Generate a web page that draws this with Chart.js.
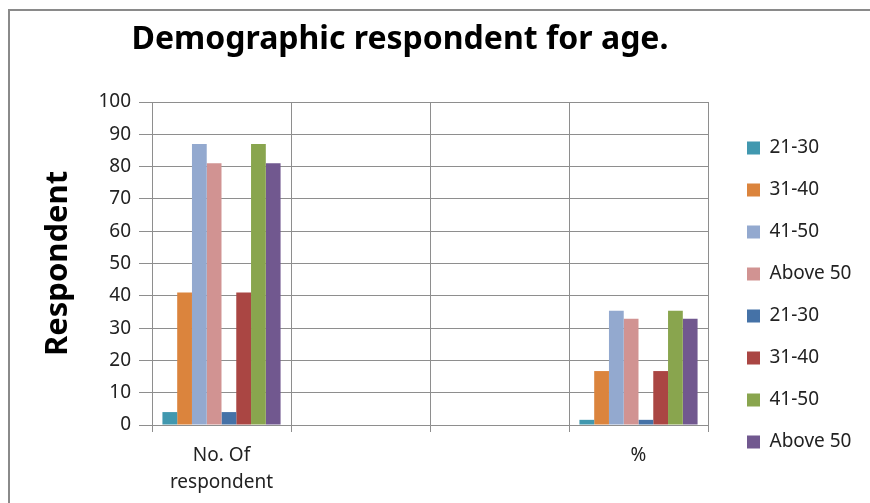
<!DOCTYPE html>
<html>
<head>
<meta charset="utf-8">
<script src="https://cdn.jsdelivr.net/npm/chart.js@4"></script>
<style>
  html, body { margin: 0; padding: 0; background: #fff; }
  #wrap { position: relative; width: 870px; height: 503px; overflow: hidden; }
  #frame { position: absolute; left: 8px; top: 9px; width: 900px; height: 600px;
           border-left: 2px solid #8a8a8a; border-top: 2px solid #8a8a8a; }
  canvas { position: absolute; left: 0; top: 0; }
</style>
</head>
<body>
<div id="wrap">
  <div id="frame"></div>
  <canvas id="c" width="870" height="503"></canvas>
</div>
<script>
// ---- data ----
const categories = [['No. Of', 'respondent'], '', '', '%'];
const seriesNames = ['21-30', '31-40', '41-50', 'Above 50', '21-30', '31-40', '41-50', 'Above 50'];
const s1_2130 = [4, null, null, 1.6];
const s1_3140 = [41, null, null, 16.7];
const s1_4150 = [87, null, null, 35.4];
const s1_above50 = [81, null, null, 32.9];
const s2_2130 = [4, null, null, 1.6];
const s2_3140 = [41, null, null, 16.7];
const s2_4150 = [87, null, null, 35.4];
const s2_above50 = [81, null, null, 32.9];
const yTicks = [0, 10, 20, 30, 40, 50, 60, 70, 80, 90, 100];

const seriesValues = [s1_2130, s1_3140, s1_4150, s1_above50, s2_2130, s2_3140, s2_4150, s2_above50];
const colors = ['#4198AF', '#DB843D', '#93A9CF', '#D19392', '#4572A7', '#AA4643', '#89A54E', '#71588F'];

const FAMILY = '"Noto Sans", sans-serif';
const LEG_SIZE = 19;
const LEG_PAD = 23;
const BOX = 13;

// measure legend width to place legend boxes at the right spot
const mctx = document.createElement('canvas').getContext('2d');
mctx.font = 'normal ' + LEG_SIZE + 'px ' + FAMILY;
const maxText = Math.max(...seriesNames.map(t => mctx.measureText(t).width));
const legendW = LEG_PAD + BOX + LEG_SIZE / 2 + maxText + 10;
const legendLeft = 747 - LEG_PAD;
const plotRight = 708;
const rightPad = Math.max(0, 870 - legendLeft - legendW);

const gridColor = '#8e8e8e';

const titleShift = {
  id: 'titleShift',
  afterLayout(chart) {
    if (chart.titleBlock) { chart.titleBlock.left = 0; chart.titleBlock.right = 800; }
  }
};

new Chart(document.getElementById('c'), {
  type: 'bar',
  data: {
    labels: categories,
    datasets: seriesNames.map((n, i) => ({
      label: n,
      data: seriesValues[i],
      backgroundColor: colors[i],
      borderWidth: 0
    }))
  },
  options: {
    responsive: false,
    animation: false,
    layout: { padding: { left: 0, top: 0, right: rightPad, bottom: 0 } },
    datasets: { bar: { categoryPercentage: 0.85, barPercentage: 1.0 } },
    plugins: {
      tooltip: { enabled: false },
      title: {
        display: true,
        text: 'Demographic respondent for age.',
        color: '#000',
        font: { family: FAMILY, size: 32, weight: 'bold', lineHeight: 1.2 },
        padding: { top: 21, bottom: 42.6 }
      },
      legend: {
        position: 'right',
        align: 'start',
        title: { display: true, text: ' ', font: { size: 1, lineHeight: 1.4 }, padding: { top: 114, bottom: 0 } },
        labels: {
          boxWidth: BOX,
          boxHeight: BOX,
          padding: LEG_PAD,
          color: '#222',
          font: { family: FAMILY, size: LEG_SIZE, lineHeight: 1.2 }
        }
      }
    },
    scales: {
      x: {
        grid: { display: true, offset: true, color: gridColor, tickLength: 7, tickColor: gridColor },
        border: { display: true, color: gridColor },
        ticks: { color: '#222', padding: 10, maxRotation: 0, autoSkip: false,
                 font: { family: FAMILY, size: 19, lineHeight: '27px' } },
        afterFit(s) { s.height = 78; }
      },
      y: {
        min: 0, max: 100,
        grid: { color: gridColor, tickLength: 13, tickColor: gridColor },
        border: { display: true, color: gridColor },
        ticks: {
          stepSize: 10, padding: 8, color: '#222',
          font: { family: FAMILY, size: 19 },
          callback: (v) => yTicks.includes(v) ? String(v) : ''
        },
        title: {
          display: true, text: 'Respondent', color: '#000',
          font: { family: FAMILY, size: 31, weight: 'bold', lineHeight: 1.2 },
          padding: { top: 40, bottom: 0 }
        },
        afterFit(s) { s.width = 152; }
      },
      y2: {
        position: 'right',
        display: true,
        grid: { display: false, drawTicks: false },
        border: { display: false },
        ticks: { display: false },
        afterFit(s) { s.width = legendLeft - plotRight; }
      }
    }
  },
  plugins: [titleShift]
});
</script>
</body>
</html>
